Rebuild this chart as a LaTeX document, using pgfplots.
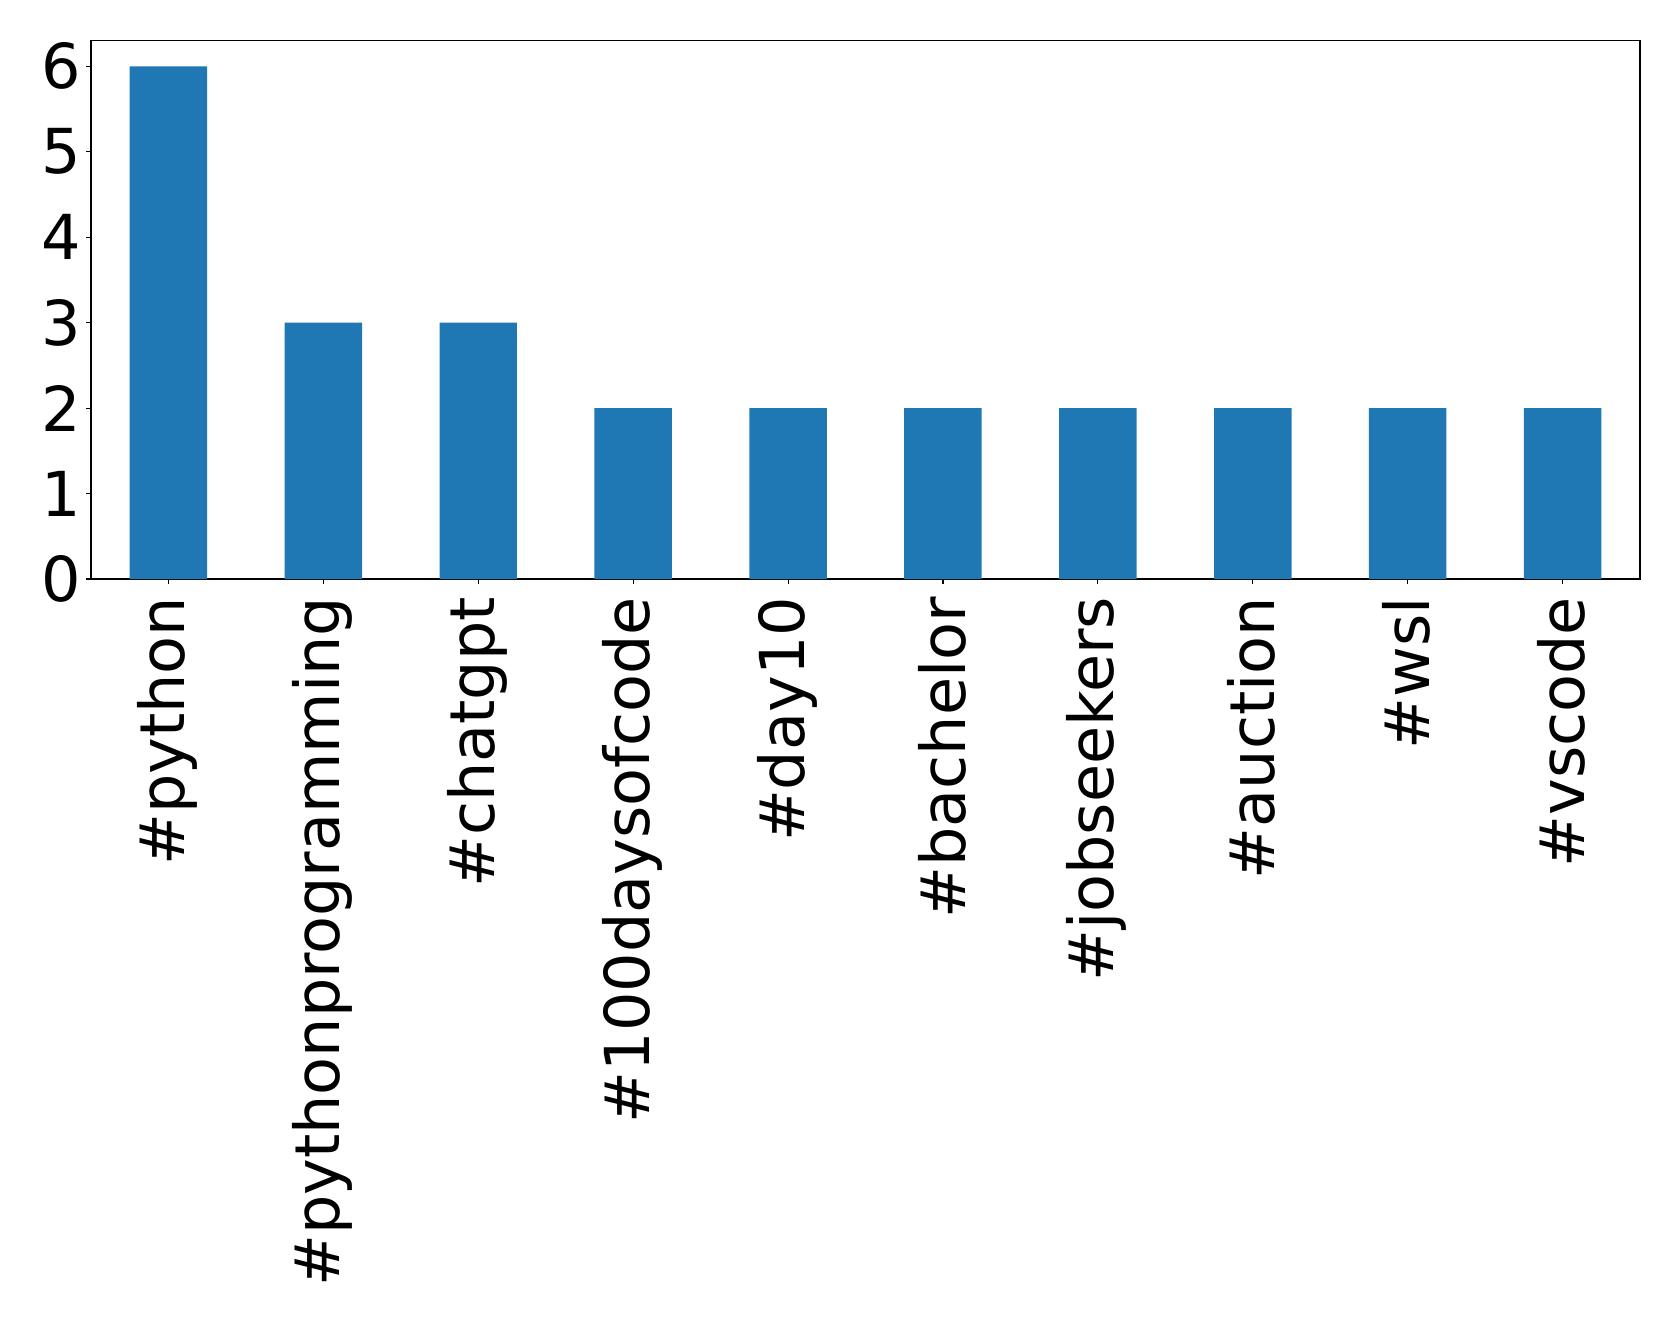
\documentclass[border=0pt]{standalone}
\usepackage{fontspec}
\setmainfont{DejaVu Sans}
\usepackage{pgfplots}
\pgfplotsset{compat=1.18}
\definecolor{tabblue}{HTML}{1F77B4}
\begin{document}
\begin{tikzpicture}
\useasboundingbox (0,0) rectangle (839.5pt,661.5pt);
\begin{axis}[
  at={(45.5pt,372pt)}, anchor=south west,
  scale only axis, width=774.5pt, height=269.15pt,
  xmin=-0.5, xmax=9.5, ymin=0, ymax=6.3,
  axis line style={line width=0.55pt},
  every tick/.style={black, line width=0.55pt},
  tick align=outside, major tick length=2.45pt,
  xtick pos=bottom, ytick pos=left,
  xtick={0,...,9}, ytick={0,...,6},
  xticklabels={\#python,\#pythonprogramming,\#chatgpt,\#100daysofcode,\#day10,\#bachelor,\#jobseekers,\#auction,\#wsl,\#vscode},
  /pgf/number format/assume math mode=true,
  tick label style={font=\fontsize{31}{36}\selectfont, inner sep=0pt},
  xticklabel style={yshift=-6.4pt, xshift=-0.5pt, rotate=90, anchor=east},
  yticklabel style={anchor=east, xshift=-2.2pt},
  ybar, bar width=0.5,
]
\addplot[fill=tabblue, draw=none] coordinates {(0,6) (1,3) (2,3) (3,2) (4,2) (5,2) (6,2) (7,2) (8,2) (9,2)};
\end{axis}
\end{tikzpicture}
\end{document}
